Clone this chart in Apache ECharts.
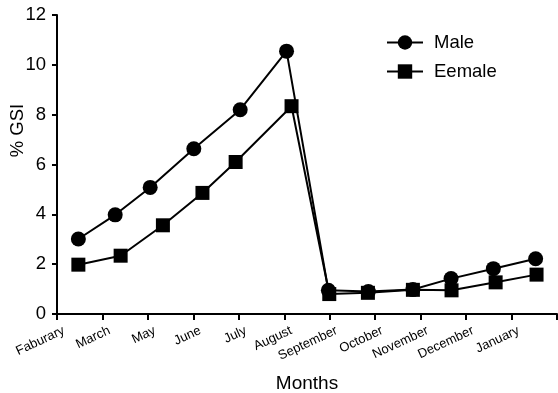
<!DOCTYPE html>
<html>
<head>
<meta charset="utf-8">
<style>
  html, body { margin: 0; padding: 0; background: #fff; }
  #chart { width: 558px; height: 393px; }
</style>
<script src="https://cdn.jsdelivr.net/npm/echarts@6/dist/echarts.min.js"></script>
</head>
<body>
<div id="chart"></div>
<script>
// Month tick labels along the x axis (tick index 0..10)
var monthLabels = ['Faburary', 'March', 'May', 'June', 'July', 'August',
                   'September', 'October', 'November', 'December', 'January'];

// Sampling positions on the month axis and % GSI values
var maleX   = [0.47, 1.28, 2.05, 3.01, 4.03, 5.05, 5.97, 6.85, 7.83, 8.67, 9.60, 10.53];
var maleGSI = [3.01, 3.98, 5.08, 6.63, 8.20, 10.55, 0.95, 0.90, 0.98, 1.42, 1.82, 2.22];

var femaleX   = [0.47, 1.40, 2.33, 3.20, 3.93, 5.16, 5.99, 6.84, 7.83, 8.68, 9.65, 10.55];
var femaleGSI = [1.98, 2.34, 3.56, 4.86, 6.10, 8.34, 0.80, 0.85, 0.97, 0.95, 1.27, 1.58];

function pairs(xs, ys) {
  return xs.map(function (x, i) { return [x, ys[i]]; });
}

var FONT = '"Liberation Sans", Arial, Helvetica, sans-serif';

var chart = echarts.init(document.getElementById('chart'), null, { renderer: 'canvas' });
chart.setOption({
  animation: false,
  backgroundColor: '#ffffff',
  textStyle: { fontFamily: FONT, color: '#000' },
  grid: { left: 57, right: 1, top: 15, bottom: 79, containLabel: false, outerBoundsMode: 'none' },
  legend: {
    left: 386,
    top: 33,
    padding: 0,
    orient: 'vertical',
    itemWidth: 36,
    itemHeight: 18,
    itemGap: 10,
    textStyle: { fontFamily: FONT, fontSize: 18.5, color: '#000', padding: [0, 0, 0, 6] },
    data: ['Male', 'Eemale']
  },
  xAxis: {
    type: 'value',
    min: 0,
    max: 11,
    interval: 1,
    name: 'Months',
    nameLocation: 'middle',
    nameGap: 60,
    nameMoveOverlap: false,
    nameTextStyle: { fontFamily: FONT, fontSize: 19, color: '#000' },
    splitLine: { show: false },
    axisLine: { show: true, onZero: false, lineStyle: { color: '#000', width: 2 } },
    axisTick: { show: true, length: 6, lineStyle: { color: '#000', width: 2 } },
    axisLabel: {
      rotate: 25,
      margin: 1,
      align: 'right',
      verticalAlign: 'top',
      padding: [10, 0, 0, 0],
      fontFamily: FONT,
      fontSize: 13,
      color: '#000',
      formatter: function (v) { return monthLabels[v] || ''; }
    }
  },
  yAxis: {
    type: 'value',
    min: 0,
    max: 12,
    interval: 2,
    name: '% GSI',
    nameLocation: 'middle',
    nameRotate: 90,
    nameGap: 30,
    nameMoveOverlap: false,
    nameTextStyle: { fontFamily: FONT, fontSize: 18.5, color: '#000', padding: [0, 0, 0, 68] },
    splitLine: { show: false },
    axisLine: { show: true, lineStyle: { color: '#000', width: 2 } },
    axisTick: { show: true, length: 5, lineStyle: { color: '#000', width: 2 } },
    axisLabel: { margin: 11, fontFamily: FONT, fontSize: 18.5, color: '#000' }
  },
  series: [
    {
      name: 'Male',
      type: 'line',
      data: pairs(maleX, maleGSI),
      symbol: 'circle',
      symbolSize: 15,
      itemStyle: { color: '#000' },
      lineStyle: { color: '#000', width: 2 },
      z: 3
    },
    {
      name: 'Eemale',
      type: 'line',
      data: pairs(femaleX, femaleGSI),
      symbol: 'rect',
      symbolSize: 14,
      itemStyle: { color: '#000' },
      lineStyle: { color: '#000', width: 2 },
      z: 4
    }
  ]
});
</script>
</body>
</html>
